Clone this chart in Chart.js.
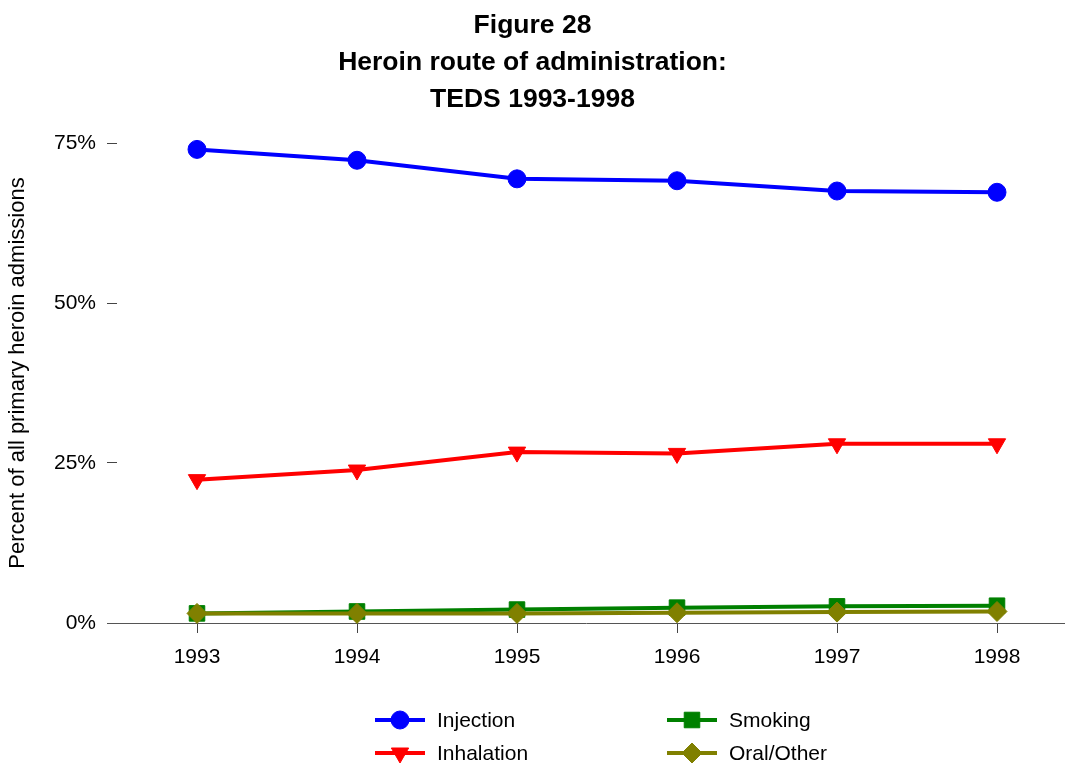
<!DOCTYPE html>
<html>
<head>
<meta charset="utf-8">
<title>Heroin route of administration</title>
<script src="https://cdn.jsdelivr.net/npm/chart.js@4.4.1/dist/chart.umd.min.js"></script>
<style>
  html, body { margin: 0; padding: 0; background: #fff; }
  #wrap { position: relative; width: 1065px; height: 764px; }
  #legend {
    position: absolute; left: 375px; top: 703px;
    display: grid; grid-template-columns: 292px auto;
    font: 21px "Liberation Sans", Arial, sans-serif; color: #000;
  }
  .item { display: flex; align-items: center; height: 33px; }
  .item canvas { margin-right: 12px; }
</style>
</head>
<body>
<div id="wrap">
  <canvas id="chart" width="1065" height="764"></canvas>
  <div id="legend"></div>
</div>
<script>
// TEDS admissions, percent by route of administration
const years = [1993, 1994, 1995, 1996, 1997, 1998];
const injection = [74.0, 72.3, 69.4, 69.1, 67.5, 67.3];
const inhalation = [22.4, 23.9, 26.7, 26.5, 28.0, 28.0];
const smoking = [1.5, 1.8, 2.1, 2.4, 2.6, 2.7];
const oralOther = [1.5, 1.5, 1.5, 1.6, 1.7, 1.8];
const yTicks = [0, 25, 50, 75];

const FONT = '"Liberation Sans", Arial, sans-serif';

function series(label, values, color, style, radius, rotation, order) {
    return {
        label: label,
        data: years.map((y, i) => ({ x: y, y: values[i] })),
        borderColor: color,
        backgroundColor: color,
        borderWidth: 4,
        pointStyle: style,
        pointRadius: radius,
        pointRotation: rotation,
        pointBorderWidth: 1,
        pointBackgroundColor: color,
        pointBorderColor: color,
        clip: false,
        order: order
    };
}

const datasets = [
    series('Injection', injection, '#0000ff', 'circle', 9, 0, 1),
    series('Inhalation', inhalation, '#ff0000', 'triangle', 10, 180, 1),
    series('Smoking', smoking, '#008000', 'rect', 11, 0, 1),
    series('Oral/Other', oralOther, '#808000', 'rectRot', 10, 0, 0)
];

// no extra room for half-labels at the ends of the axes
function noEdgePadding(scale) {
    scale.paddingLeft = 0;
    scale.paddingRight = 0;
    scale.paddingTop = 0;
    scale.paddingBottom = 0;
}

const chart = new Chart(document.getElementById('chart'), {
    type: 'line',
    data: { datasets: datasets },
    options: {
        responsive: false,
        animation: false,
        layout: { padding: 0, autoPadding: false },
        plugins: {
            legend: { display: false },
            tooltip: { enabled: false },
            title: {
                display: true,
                text: ['Figure 28', 'Heroin route of administration:', 'TEDS 1993-1998'],
                color: '#000',
                font: { family: FONT, size: 26.5, weight: 'bold', lineHeight: 37 / 26.5 },
                padding: { top: 7, bottom: 5 }
            }
        },
        scales: {
            x: {
                type: 'linear',
                min: 1992.4375,
                max: 1998.425,
                afterBuildTicks: (scale) => { scale.ticks = years.map(v => ({ value: v })); },
                afterFit: (scale) => { scale.height = 141; noEdgePadding(scale); },
                grid: { drawOnChartArea: false, drawTicks: true, tickLength: 10, color: '#444' },
                border: { display: true, color: '#555', width: 1 },
                ticks: {
                    color: '#000',
                    padding: 12,
                    font: { family: FONT, size: 21 },
                    callback: (v) => String(v)
                }
            },
            y: {
                min: 0,
                max: 78.125,
                afterBuildTicks: (scale) => { scale.ticks = yTicks.map(v => ({ value: v })); },
                afterFit: (scale) => { scale.width = 107; noEdgePadding(scale); },
                grid: { drawOnChartArea: false, drawTicks: true, tickLength: -10, color: '#444' },
                border: { display: false },
                ticks: {
                    color: '#000',
                    padding: 21,
                    font: { family: FONT, size: 21 },
                    callback: (v) => v + '%'
                },
                title: {
                    display: true,
                    text: 'Percent of all primary heroin admissions',
                    color: '#000',
                    font: { family: FONT, size: 22 },
                    padding: { top: 5, bottom: 0 }
                }
            }
        }
    }
});

// two-column legend: line segment with the series marker in the middle
const legendOrder = [0, 2, 1, 3];
const legend = document.getElementById('legend');
legendOrder.forEach((idx) => {
    const ds = chart.data.datasets[idx];
    const item = document.createElement('div');
    item.className = 'item';
    const c = document.createElement('canvas');
    c.width = 50; c.height = 26;
    const ctx = c.getContext('2d');
    ctx.strokeStyle = ds.borderColor;
    ctx.lineWidth = 4;
    ctx.beginPath();
    ctx.moveTo(0, 13);
    ctx.lineTo(50, 13);
    ctx.stroke();
    ctx.fillStyle = ds.pointBackgroundColor;
    ctx.lineWidth = 1;
    Chart.helpers.drawPoint(ctx, {
        pointStyle: ds.pointStyle,
        rotation: ds.pointRotation,
        radius: ds.pointRadius,
        borderWidth: 1
    }, 25, 13);
    const span = document.createElement('span');
    span.textContent = ds.label;
    item.appendChild(c);
    item.appendChild(span);
    legend.appendChild(item);
});
</script>
</body>
</html>
